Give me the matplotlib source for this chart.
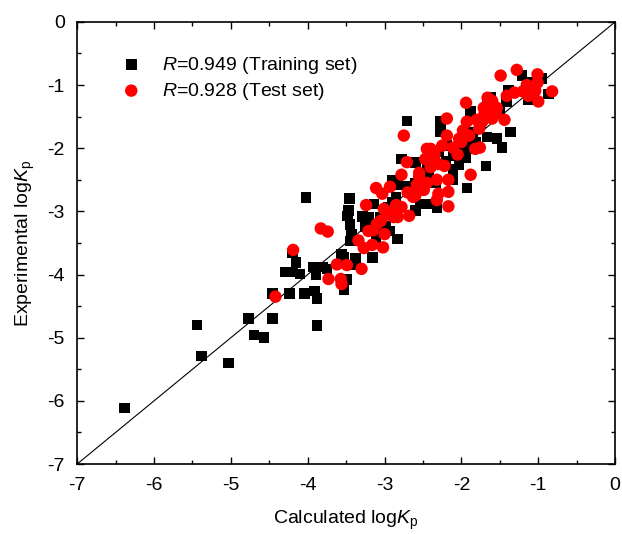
import numpy as np
import matplotlib
matplotlib.use("Agg")
import matplotlib.pyplot as plt

plt.rcParams['font.family'] = ['Liberation Sans', 'DejaVu Sans']
plt.rcParams['mathtext.fontset'] = 'custom'
plt.rcParams['mathtext.rm'] = 'Liberation Sans'
plt.rcParams['mathtext.it'] = 'Liberation Sans:italic'
plt.rcParams['axes.unicode_minus'] = False

# training set (calculated, experimental)
train_x = [-6.38, -5.44, -5.38, -5.03, -4.77, -4.70, -4.57, -4.46, -4.46, -4.24,
           -4.04, -3.88, -3.91, -3.88, -4.29, -4.20, -4.10, -4.20, -4.15, -4.02,
           -3.93, -3.89, -3.80, -3.75, -3.56, -3.53, -3.49, -3.53, -3.46, -3.47,
           -3.48, -3.45, -3.43, -3.44, -3.38, -3.37, -3.16, -3.29, -3.21, -3.14,
           -3.06, -2.98, -2.93, -2.83, -2.90, -2.83, -2.85, -2.78, -2.71, -2.60,
           -2.54, -2.42, -2.34, -2.32, -2.27, -2.27, -2.19, -2.11, -2.11, -2.11,
           -2.03, -1.95, -1.93, -1.88, -1.82, -1.77, -1.68, -1.67, -1.62, -1.54,
           -1.47, -1.41, -1.36, -1.21, -1.16, -1.13, -1.08, -0.95, -0.87, -1.39,
           -1.67, -1.93, -2.42, -2.63, -2.60, -2.95, -3.11, -3.06, -2.85,
           -2.90, -2.70, -2.50, -2.45, -2.20, -2.05, -1.85, -1.75, -1.60, -1.50,
           -3.00, -3.25, -2.30, -1.95, -2.60]
train_y = [-6.11, -4.80, -5.29, -5.40, -4.70, -4.96, -5.00, -4.70, -4.30, -4.30,
           -4.30, -4.81, -4.26, -4.38, -3.96, -3.96, -3.99, -3.66, -3.81, -2.78,
           -3.88, -4.00, -3.88, -3.91, -3.68, -3.73, -4.08, -4.24, -2.80, -2.99,
           -3.07, -3.21, -3.36, -3.47, -3.74, -3.85, -3.73, -3.08, -3.09, -2.88,
           -3.09, -3.23, -3.31, -3.44, -2.50, -2.58, -2.77, -2.17, -1.57, -2.23,
           -2.88, -2.88, -2.55, -2.94, -1.58, -1.74, -1.96, -2.12, -2.50, -2.34,
           -2.26, -2.15, -2.63, -1.42, -1.90, -1.69, -2.28, -1.82, -1.20, -1.85,
           -1.99, -1.26, -1.74, -0.85, -1.04, -1.23, -0.96, -0.90, -1.14, -1.08,
           -1.34, -2.01, -2.45, -2.66, -2.99, -2.93, -3.42, -3.31, -2.99,
           -2.85, -2.60, -2.45, -2.30, -2.20, -2.00, -1.75, -1.60, -1.45, -1.40,
           -3.00, -3.25, -2.05, -1.90, -2.55]

# test set (calculated, experimental)
test_x = [-4.42, -4.19, -3.83, -3.74, -3.73, -3.62, -3.57, -3.56, -3.49, -3.30,
          -3.34, -3.27, -3.24, -3.21, -3.16, -3.11, -3.03, -3.02, -3.01, -3.00,
          -2.93, -2.88, -2.83, -2.78, -2.78, -2.75, -2.71, -2.68, -2.63, -2.58,
          -2.55, -2.49, -2.47, -2.45, -2.40, -2.38, -2.32, -2.32, -2.30, -2.25,
          -2.22, -2.19, -2.19, -2.17, -2.17, -2.17, -2.11, -2.03, -1.98, -1.94,
          -1.93, -1.88, -1.82, -1.77, -1.76, -1.73, -1.71, -1.66, -1.62, -1.60,
          -1.54, -1.49, -1.44, -1.41, -1.31, -1.28, -1.13, -1.04, -1.01, -1.00,
          -1.01, -0.82,
          -2.55, -2.50, -2.40, -2.35, -2.60, -2.85, -2.95, -3.10, -3.15, -2.90,
          -2.30, -2.00, -1.90, -1.80, -1.70, -1.65, -1.60, -1.55, -2.05, -1.20,
          -1.15, -2.70, -2.45, -3.05]
test_y = [-4.35, -3.61, -3.27, -3.32, -4.07, -3.84, -4.07, -4.15, -3.85, -3.91,
          -3.46, -3.58, -2.90, -3.31, -3.53, -2.63, -2.72, -3.57, -2.96, -3.36,
          -2.61, -3.09, -3.09, -2.93, -2.42, -1.80, -2.22, -3.07, -2.77, -2.58,
          -2.39, -2.66, -2.17, -2.01, -2.01, -2.17, -2.50, -2.82, -2.72, -1.96,
          -2.28, -1.53, -1.80, -2.50, -2.69, -2.92, -1.99, -1.85, -1.72, -1.28,
          -1.58, -2.42, -2.01, -1.69, -1.99, -1.58, -1.36, -1.20, -1.42, -1.53,
          -1.36, -0.85, -1.55, -1.17, -1.12, -0.76, -1.17, -1.09, -0.83, -1.26,
          -0.96, -1.10,
          -2.45, -2.65, -2.30, -2.10, -2.75, -2.90, -3.05, -3.20, -3.30, -3.00,
          -2.25, -1.90, -1.80, -1.55, -1.45, -1.30, -1.25, -1.45, -2.10, -1.10,
          -1.00, -2.70, -2.55, -3.15]

fig = plt.figure(figsize=(6.22, 5.34), dpi=100)
ax = fig.add_axes([0.124, 0.131, 0.865, 0.828])

ax.plot([-7, 0], [-7, 0], color='black', lw=0.8, zorder=1)
ax.scatter(train_x, train_y, marker='s', s=58, color='black', edgecolors='none',
           zorder=2, label='$R$=0.949 (Training set)')
ax.scatter(test_x, test_y, marker='o', s=80, color='red', edgecolors='none',
           zorder=3, label='$R$=0.928 (Test set)')

ax.set_xlim(-7, 0)
ax.set_ylim(-7, 0)
ax.set_xticks(np.arange(-7, 1, 1))
ax.set_yticks(np.arange(-7, 1, 1))
ax.set_xticks(np.arange(-6.5, 0, 1), minor=True)
ax.set_yticks(np.arange(-6.5, 0, 1), minor=True)
ax.tick_params(which='both', direction='in', top=True, right=True, labelsize=14)
ax.tick_params(which='major', length=5, width=1, pad=9)
ax.tick_params(which='minor', length=3, width=1)
for sp in ax.spines.values():
    sp.set_linewidth(1.2)

ax.set_xlabel('Calculated log$K_\\mathrm{p}$', fontsize=14, labelpad=11)
ax.set_ylabel('Experimental log$K_\\mathrm{p}$', fontsize=14, labelpad=7)

ax.legend(loc='upper left', bbox_to_anchor=(0.05, 0.965), frameon=False,
          fontsize=14, handlelength=1.0, handletextpad=1.1, labelspacing=0.25,
          scatterpoints=1)

fig.savefig('out.png', dpi=100)
